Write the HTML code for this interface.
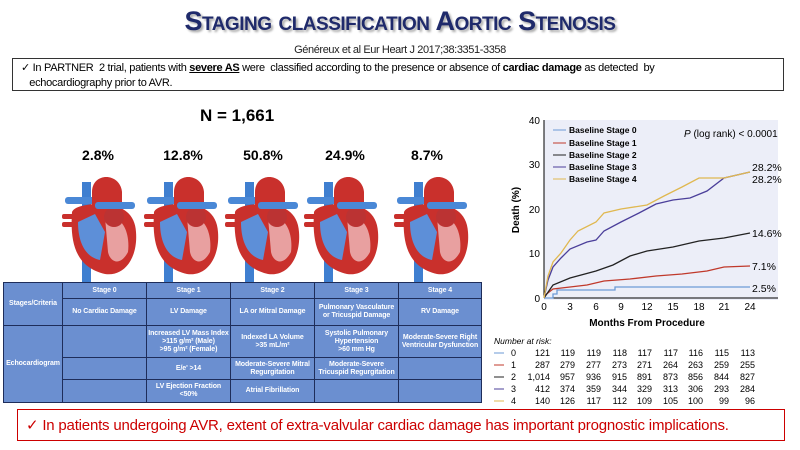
<!DOCTYPE html>
<html><head><meta charset="utf-8"><style>
body{margin:0;width:800px;height:450px;background:#fff;font-family:"Liberation Sans",sans-serif;position:relative;overflow:hidden}
.a{position:absolute}
.title{left:0;width:800px;top:6px;text-align:center;font-weight:bold;color:#1f2a6b;font-size:27px;text-shadow:2px 2px 2px #aaa;font-variant:small-caps;letter-spacing:-0.5px}
.ref{left:0;width:800px;top:44px;text-align:center;font-size:11px;color:#222;letter-spacing:-0.4px}
.box{left:12px;top:58px;width:772px;height:33px;border:1px solid #333;font-size:11px;line-height:15px;padding:2px 8px;box-sizing:border-box;letter-spacing:-0.3px;white-space:nowrap}
.pct{font-size:14px;font-weight:bold;top:147px;width:60px;text-align:center}
table{position:absolute;left:3px;top:282px;width:478px;height:120px;border-collapse:collapse;table-layout:fixed;background:#6b8fd0;color:#fff;font-size:7px;font-weight:bold;letter-spacing:-0.1px}
td{border:1px solid #1e2d5a;text-align:center;line-height:8px;padding:0 1px;overflow:hidden}
.red{left:17px;top:409px;width:768px;height:32px;border:1px solid #c00;color:#c00;font-size:15px;line-height:31px;padding-left:8px;box-sizing:border-box;white-space:nowrap;letter-spacing:-0.2px;overflow:hidden}
</style></head><body>
<div class="a title">Staging classification Aortic Stenosis</div>
<div class="a ref">Généreux et al Eur Heart J 2017;38:3351-3358</div>
<div class="a box">✓ In PARTNER &nbsp;2 trial, patients with <b><u>severe AS</u></b> were &nbsp;classified according to the presence or absence of <b>cardiac damage</b> as detected &nbsp;by<br>&nbsp;&nbsp;&nbsp;echocardiography prior to AVR.</div>
<div class="a" style="left:200px;top:106px;font-size:17px;font-weight:bold">N = 1,661</div>
<div class="a pct" style="left:68px">2.8%</div>
<div class="a pct" style="left:153px">12.8%</div>
<div class="a pct" style="left:233px">50.8%</div>
<div class="a pct" style="left:315px">24.9%</div>
<div class="a pct" style="left:397px">8.7%</div>
<svg class="a" style="left:0;top:0" width="800" height="450">
<defs><g id="h">
<rect x="-18" y="-40" width="9" height="100" fill="#3f7fd0"/>
<rect x="-35" y="-25" width="30" height="7" rx="3" fill="#4a88d6"/>
<path d="M-8,-30 C-8,-50 20,-50 22,-30 L22,-15 L-8,-15Z" fill="#c9302c"/>
<rect x="-38" y="-8" width="20" height="5" rx="2" fill="#c9302c"/>
<rect x="-38" y="0" width="20" height="5" rx="2" fill="#c9302c"/>
<path d="M-28,-10 C-30,20 -25,45 5,52 C25,55 38,35 36,10 C35,-10 20,-18 0,-18 C-15,-18 -26,-15 -28,-10Z" fill="#c9302c"/>
<path d="M-22,0 C-22,20 -15,35 0,38 L5,10 L-5,-8Z" fill="#5d8fd8"/>
<path d="M5,-5 C25,-8 30,15 28,30 C20,45 10,40 8,30Z" fill="#e8a0a0"/>
<circle cx="14" cy="-5" r="10" fill="#b33"/>
<rect x="-5" y="-20" width="40" height="7" rx="3" fill="#4a88d6"/>
</g></defs>
<use href="#h" x="100" y="222"/><use href="#h" x="182" y="222"/><use href="#h" x="263" y="222"/><use href="#h" x="342" y="222"/><use href="#h" x="432" y="222"/>
<rect x="544" y="120" width="234" height="180" fill="#eceef8"/>
<g stroke="#000" stroke-width="1"><line x1="544" y1="120" x2="544" y2="298"/><line x1="544" y1="298" x2="778" y2="298"/></g>
<g font-size="10" text-anchor="end" fill="#000"><text x="540" y="124">40</text><text x="540" y="168">30</text><text x="540" y="213">20</text><text x="540" y="257">10</text><text x="540" y="302">0</text></g>
<g font-size="10" text-anchor="middle"><text x="544" y="310">0</text><text x="570" y="310">3</text><text x="596" y="310">6</text><text x="621" y="310">9</text><text x="647" y="310">12</text><text x="673" y="310">15</text><text x="699" y="310">18</text><text x="724" y="310">21</text><text x="750" y="310">24</text></g>
<text x="647" y="326" font-size="10" font-weight="bold" text-anchor="middle">Months From Procedure</text>
<text transform="translate(519,210) rotate(-90)" font-size="10" font-weight="bold" text-anchor="middle">Death (%)</text>
<g font-size="8.5" font-weight="bold"><line x1="553" y1="130" x2="566" y2="130" stroke="#6b9ad6"/><text x="569" y="133">Baseline Stage 0</text>
<line x1="553" y1="143" x2="566" y2="143" stroke="#c0392b"/><text x="569" y="146">Baseline Stage 1</text>
<line x1="553" y1="155" x2="566" y2="155" stroke="#222"/><text x="569" y="158">Baseline Stage 2</text>
<line x1="553" y1="167" x2="566" y2="167" stroke="#4b3f9a"/><text x="569" y="170">Baseline Stage 3</text>
<line x1="553" y1="179" x2="566" y2="179" stroke="#e0b850"/><text x="569" y="182">Baseline Stage 4</text>
<text x="684" y="137" font-size="10" font-weight="normal"><tspan font-style="italic">P</tspan> (log rank) &lt; 0.0001</text></g>
<g fill="none" stroke-width="1.3">
<polyline stroke="#6b9ad6" points="544,298 553,298 553,294 557,294 557,290 615,290 615,287 750,287"/>
<polyline stroke="#c0392b" points="544,296 553,289 570,287 587,285 604,281 630,279 656,276 682,274 707,271 724,267 750,266"/>
<polyline stroke="#222" points="544,298 553,285 570,278 596,271 613,265 630,256 647,251 673,247 699,241 724,238 750,233"/>
<polyline stroke="#4b3f9a" points="544,298 548,280 553,267 561,258 570,249 587,242 596,240 604,231 621,222 639,213 656,204 673,200 690,198 707,191 724,178 750,172"/>
<polyline stroke="#e0b850" points="544,298 548,276 553,262 561,253 570,240 578,231 596,222 604,213 621,209 647,205 664,196 682,187 699,178 724,178 750,172"/>
</g>
<g font-size="10.5"><text x="752" y="171">28.2%</text><text x="752" y="183">28.2%</text><text x="752" y="237">14.6%</text><text x="752" y="270">7.1%</text><text x="752" y="292">2.5%</text></g>
<text x="494" y="344" font-size="8.5" font-style="italic">Number at risk:</text>
<g font-size="9" text-anchor="end">
<line x1="494" y1="353" x2="504" y2="353" stroke="#6b9ad6"/><text x="516" y="356">0</text>
<text x="550" y="356">121</text><text x="575" y="356">119</text><text x="601" y="356">119</text><text x="627" y="356">118</text><text x="652" y="356">117</text><text x="678" y="356">117</text><text x="703" y="356">116</text><text x="729" y="356">115</text><text x="755" y="356">113</text>
<line x1="494" y1="365" x2="504" y2="365" stroke="#c0392b"/><text x="516" y="368">1</text>
<text x="550" y="368">287</text><text x="575" y="368">279</text><text x="601" y="368">277</text><text x="627" y="368">273</text><text x="652" y="368">271</text><text x="678" y="368">264</text><text x="703" y="368">263</text><text x="729" y="368">259</text><text x="755" y="368">255</text>
<line x1="494" y1="377" x2="504" y2="377" stroke="#222"/><text x="516" y="380">2</text>
<text x="550" y="380">1,014</text><text x="575" y="380">957</text><text x="601" y="380">936</text><text x="627" y="380">915</text><text x="652" y="380">891</text><text x="678" y="380">873</text><text x="703" y="380">856</text><text x="729" y="380">844</text><text x="755" y="380">827</text>
<line x1="494" y1="389" x2="504" y2="389" stroke="#4b3f9a"/><text x="516" y="392">3</text>
<text x="550" y="392">412</text><text x="575" y="392">374</text><text x="601" y="392">359</text><text x="627" y="392">344</text><text x="652" y="392">329</text><text x="678" y="392">313</text><text x="703" y="392">306</text><text x="729" y="392">293</text><text x="755" y="392">284</text>
<line x1="494" y1="401" x2="504" y2="401" stroke="#e0b850"/><text x="516" y="404">4</text>
<text x="550" y="404">140</text><text x="575" y="404">126</text><text x="601" y="404">117</text><text x="627" y="404">112</text><text x="652" y="404">109</text><text x="678" y="404">105</text><text x="703" y="404">100</text><text x="729" y="404">99</text><text x="755" y="404">96</text>
</g>
</svg>
<table>
<colgroup><col style="width:59px"><col style="width:84px"><col style="width:84px"><col style="width:84px"><col style="width:84px"><col style="width:83px"></colgroup>
<tr style="height:16px"><td rowspan="2">Stages/Criteria</td><td>Stage 0</td><td>Stage 1</td><td>Stage 2</td><td>Stage 3</td><td>Stage 4</td></tr>
<tr style="height:27px"><td>No Cardiac Damage</td><td>LV Damage</td><td>LA or Mitral Damage</td><td>Pulmonary Vasculature or Tricuspid Damage</td><td>RV Damage</td></tr>
<tr style="height:32px"><td rowspan="3">Echocardiogram</td><td></td><td>Increased LV Mass Index<br>&gt;115 g/m² (Male)<br>&gt;95 g/m² (Female)</td><td>Indexed LA Volume<br>&gt;35 mL/m²</td><td>Systolic Pulmonary<br>Hypertension<br>&gt;60 mm Hg</td><td>Moderate-Severe Right Ventricular Dysfunction</td></tr>
<tr style="height:22px"><td></td><td>E/e' &gt;14</td><td>Moderate-Severe Mitral Regurgitation</td><td>Moderate-Severe Tricuspid Regurgitation</td><td></td></tr>
<tr style="height:23px"><td></td><td>LV Ejection Fraction<br>&lt;50%</td><td>Atrial Fibrillation</td><td></td><td></td></tr>
</table>
<div class="a red">✓ In patients undergoing AVR, extent of extra-valvular cardiac damage has important prognostic implications.</div>
</body></html>
